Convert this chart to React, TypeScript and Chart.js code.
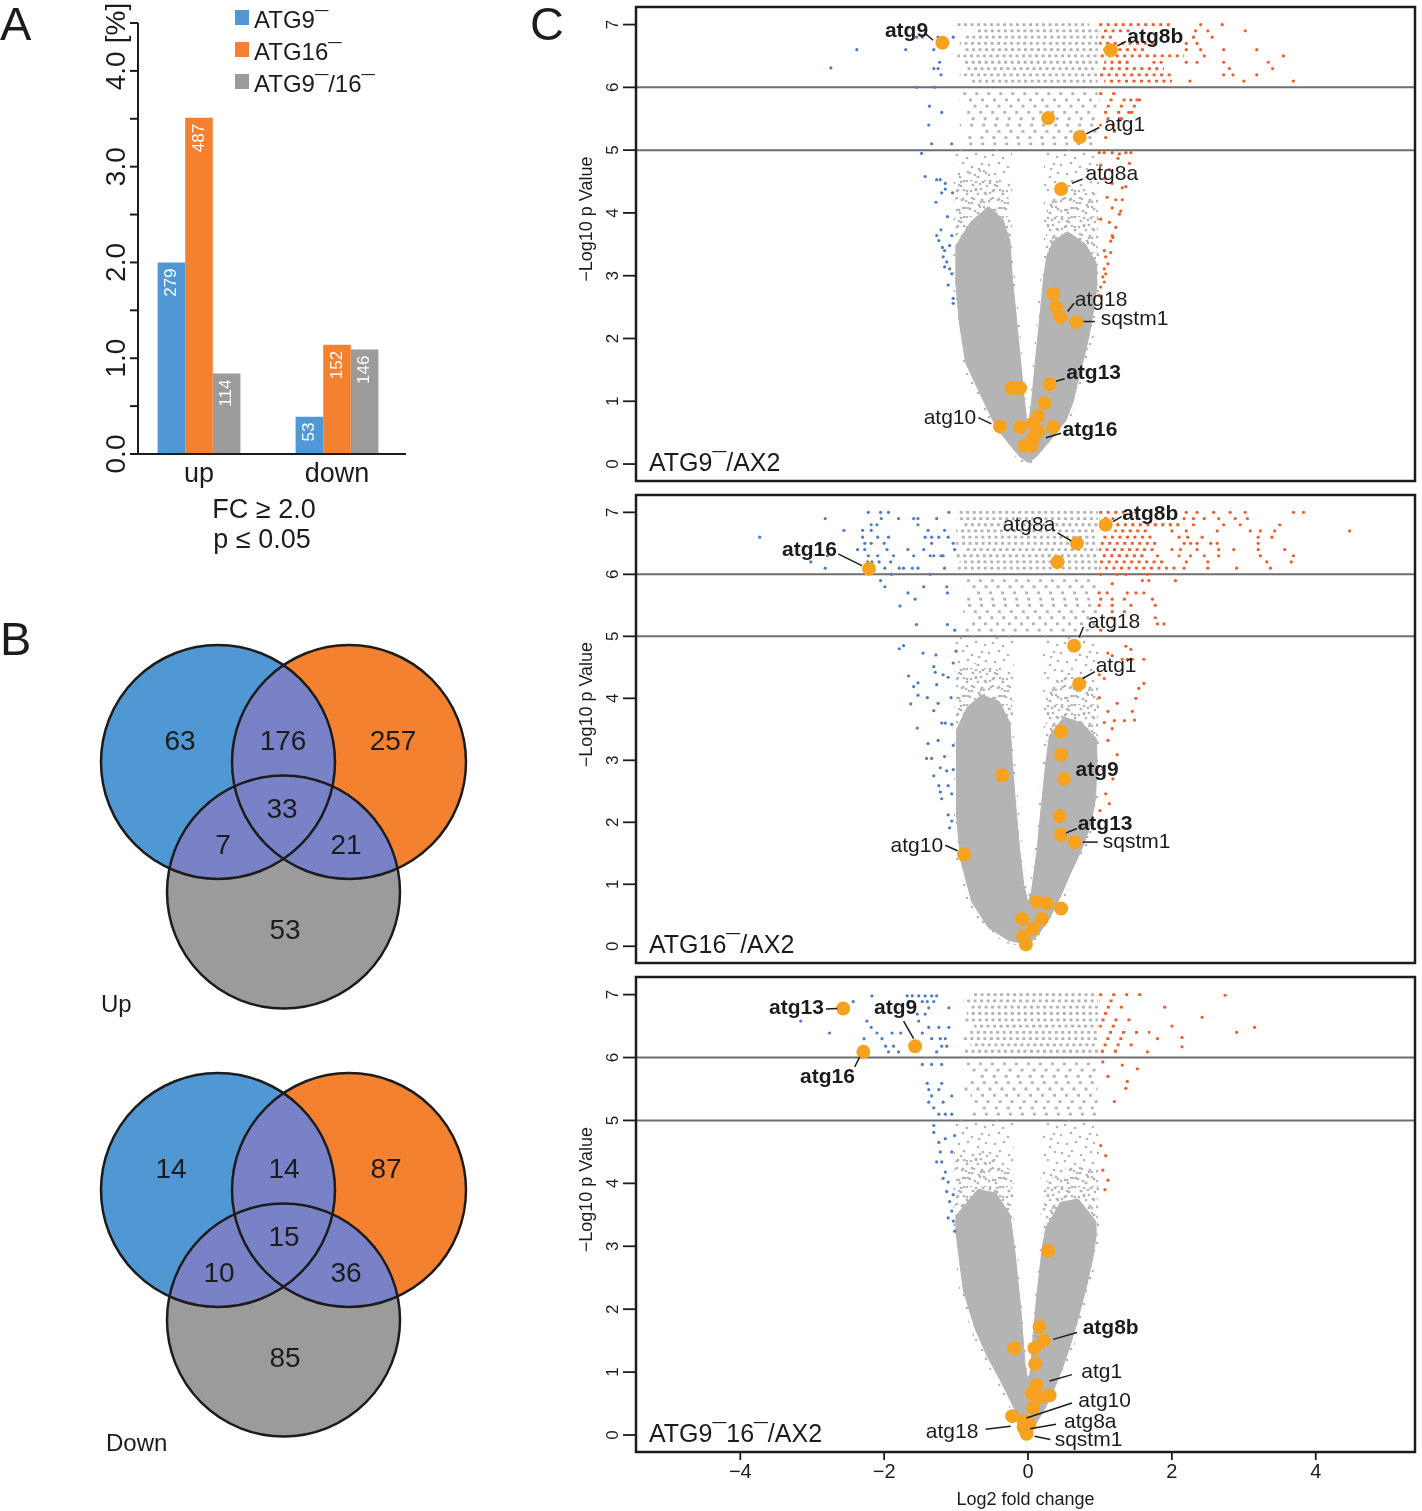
import React, { useEffect, useRef } from "react";
import { Chart, registerables } from "chart.js";

Chart.register(...registerables);

const FONT = '"Liberation Sans", Arial, Helvetica, sans-serif';
const INK = "#1c1c1c";
const BLUE = "#4f98d4";
const ORANGE = "#f4812f";
const GRAY = "#9b9b9b";
const OVERLAP = "#7a82c7";
const PT_GRAY = "#b4b4b4";
const PT_RED = "#f25a28";
const PT_BLUE = "#4c7cc9";
const PT_ORANGE = "#f7a21e";

// ---------------- Panel A: bar chart data ----------------
const barCategories = ["up", "down"];
const barSeriesNames = ["ATG9¯", "ATG16¯", "ATG9¯/16¯"];
const atg9Percent = [2.0, 0.39];
const atg16Percent = [3.51, 1.14];
const atg916Percent = [0.84, 1.09];
const atg9Counts = [279, 53];
const atg16Counts = [487, 152];
const atg916Counts = [114, 146];
const barTickValues = [0, 1, 2, 3, 4, 4.5];
const barTickLabels = ["0.0", "1.0", "2.0", "3.0", "4.0", "[%]"];
const barMinorTicks = [0.5, 1.5, 2.5, 3.5];
const barCriteria = ["FC ≥ 2.0", "p ≤ 0.05"];

// ---------------- Panel B: Venn data ----------------
// region order: ATG9 only, ATG9∩ATG16, ATG16 only, ATG9∩ATG9/16, all three, ATG16∩ATG9/16, ATG9/16 only
const vennUpCounts = [63, 176, 257, 7, 33, 21, 53];
const vennDownCounts = [14, 14, 87, 10, 15, 36, 85];
const vennTitles = ["Up", "Down"];

// ---------------- Panel C: volcano data ----------------
const xTickValues = [-4, -2, 0, 2, 4];
const xTickLabels = ["−4", "−2", "0", "2", "4"];
const yTickValues = [0, 1, 2, 3, 4, 5, 6, 7];
const pThresholds = [5, 6];

// Panel 1: ATG9-/AX2
const p1Cloud = [[0, 0.02], [0.12, 0.12], [0.25, 0.3], [0.4, 0.5], [0.53, 0.7], [0.63, 1.0], [0.71, 1.4], [0.78, 1.7], [0.85, 2.05], [0.92, 2.5], [0.96, 2.85], [0.95, 3.2], [0.8, 3.5], [0.55, 3.7], [0.35, 3.55], [0.26, 3.3], [0.22, 3.0], [0.16, 2.3], [0.1, 1.6], [0.05, 1.0], [0, 0.55], [-0.05, 1.0], [-0.1, 1.6], [-0.16, 2.3], [-0.22, 3.0], [-0.25, 3.55], [-0.35, 3.9], [-0.55, 4.1], [-0.8, 3.85], [-0.99, 3.5], [-1.0, 2.85], [-0.96, 2.3], [-0.87, 1.62], [-0.68, 1.15], [-0.45, 0.6], [-0.25, 0.3], [-0.1, 0.1]];
const p1Mid = [
  [[-1.01, 3.2], [-1.01, 4.6], [-0.6, 4.7], [-0.28, 4.4], [-0.22, 3.4]],
  [[0.24, 3.2], [0.97, 3.0], [0.97, 4.3], [0.6, 4.4], [0.26, 4.2]],
];
const p1Sparse = [[0, -0.02], [0.16, 0.1], [0.3, 0.3], [0.47, 0.52], [0.6, 0.74], [0.7, 1.02], [0.78, 1.4], [0.86, 1.75], [0.93, 2.12], [0.99, 2.5], [0.99, 5.0], [0.22, 5.0], [0.22, 3.3], [0.17, 3.0], [0.12, 2.3], [0.07, 1.6], [0.03, 1.0], [0, 0.7], [-0.03, 1.0], [-0.07, 1.6], [-0.12, 2.3], [-0.18, 3.0], [-0.22, 3.4], [-0.22, 5.0], [-1.03, 5.0], [-1.04, 2.85], [-1.0, 2.3], [-0.93, 1.62], [-0.76, 1.15], [-0.53, 0.62], [-0.3, 0.25], [-0.12, 0.05]];
const p1GrayRows = [[7.0, -0.98, 0.85], [6.9, -0.75, 0.97], [6.8, -0.88, 0.97], [6.7, -0.95, 0.97], [6.6, -0.9, 0.97], [6.5, -0.98, 0.97], [6.4, -0.92, 0.97], [6.3, -0.85, 0.97], [6.2, -0.95, 0.97], [6.1, -0.8, 0.97]];
const p1GraySparseRows = [[5.9, -0.9, 0.97], [5.8, -0.95, 0.97], [5.7, -0.85, 0.97], [5.6, -0.9, 0.97], [5.5, -0.8, 0.97], [5.4, -0.95, 0.97], [5.3, -0.7, 0.97], [5.2, -0.9, 0.97], [5.1, -0.85, 0.97]];
const p1RedRows = [[7.0, 0.99, 2.0], [6.9, 0.99, 1.43], [6.8, 0.99, 1.2], [6.7, 0.99, 1.75], [6.6, 0.99, 1.66], [6.5, 0.99, 2.17], [6.4, 1.06, 1.45], [6.3, 0.99, 1.89], [6.2, 0.99, 2.0], [6.1, 1.06, 2.0]];
const p1RedSparseRows = [[5.9, 0.99, 1.35], [5.8, 0.99, 1.6], [5.7, 0.99, 1.62], [5.6, 0.99, 1.5], [5.5, 1.06, 1.35], [5.4, 0.99, 1.25]];
const p1RedPts = [[2.4, 7.0], [2.7, 7.0], [2.33, 6.9], [2.5, 6.9], [3.02, 6.9], [2.3, 6.8], [2.56, 6.8], [2.2, 6.7], [2.35, 6.7], [2.2, 6.6], [2.4, 6.6], [2.72, 6.6], [3.18, 6.6], [2.45, 6.5], [3.55, 6.5], [1.75, 6.4], [1.85, 6.4], [2.2, 6.4], [2.35, 6.4], [2.72, 6.4], [3.34, 6.4], [2.8, 6.3], [3.4, 6.3], [2.72, 6.2], [2.85, 6.2], [3.18, 6.2], [2.25, 6.1], [3.0, 6.1], [3.69, 6.1], [1.43, 5.8], [1.55, 5.8], [1.3, 5.5], [1.2, 5.3], [1.08, 5.2], [1.4, 5.6], [0.99, 4.96], [1.06, 4.96], [1.17, 4.96], [1.27, 4.94], [1.36, 4.96], [1.43, 4.96], [1.25, 4.87], [1.41, 4.79], [1.01, 4.76], [1.13, 4.69], [1.06, 4.55], [1.17, 4.47], [1.31, 4.4], [1.36, 4.42], [1.1, 4.25], [1.22, 4.21], [1.31, 4.21], [1.17, 4.08], [1.29, 4.03], [1.27, 3.98], [1.01, 3.9], [1.13, 3.85], [1.22, 3.77], [1.17, 3.64], [1.15, 3.55], [1.18, 3.61], [1.06, 3.4], [1.15, 3.37], [1.08, 3.3], [1.11, 3.19], [1.06, 3.11], [1.08, 3.03], [1.04, 2.98], [1.06, 2.9], [1.01, 2.82], [0.99, 2.69]];
const p1BluePts = [[-2.74, 6.31], [-2.38, 6.6], [-1.7, 6.6], [-1.55, 6.8], [-1.47, 6.8], [-1.31, 6.6], [-1.25, 6.8], [-1.04, 6.8], [-1.23, 6.4], [-1.31, 6.3], [-1.25, 6.3], [-1.21, 6.2], [-1.55, 6.0], [-1.3, 6.0], [-1.37, 5.7], [-1.2, 5.6], [-1.38, 5.4], [-1.34, 5.1], [-1.06, 5.1], [-1.48, 4.95], [-1.43, 4.58], [-1.27, 4.53], [-1.22, 4.53], [-1.15, 4.47], [-1.15, 4.38], [-1.2, 4.32], [-1.05, 4.32], [-1.28, 4.17], [-1.12, 3.94], [-1.21, 3.73], [-1.06, 3.64], [-1.27, 3.64], [-1.24, 3.56], [-1.19, 3.45], [-1.16, 3.4], [-1.09, 3.48], [-1.18, 3.3], [-1.13, 3.22], [-1.16, 3.14], [-1.09, 3.11], [-1.06, 3.03], [-1.11, 2.85], [-1.04, 2.64], [-1.04, 2.56]];
const p1Genes = [[-1.19, 6.71], [1.15, 6.59], [0.28, 5.51], [0.72, 5.21], [0.46, 4.38], [0.35, 2.71], [0.39, 2.5], [0.45, 2.34], [0.67, 2.26], [0.3, 1.27], [-0.23, 1.21], [-0.11, 1.21], [0.23, 0.97], [0.14, 0.76], [0.07, 0.65], [-0.11, 0.59], [0.35, 0.59], [-0.39, 0.6], [0.14, 0.52], [0.07, 0.42], [-0.05, 0.29], [0.05, 0.29]];
const p1Labels = [
  { name: "atg9", bold: true, at: [-1.99, 6.8], align: "left", leader: [[-1.43, 6.86], [-1.32, 6.75]] },
  { name: "atg8b", bold: true, at: [1.38, 6.7], align: "left", leader: [[1.24, 6.66], [1.36, 6.73]] },
  { name: "atg1", bold: false, at: [1.06, 5.31], align: "left", leader: [[0.81, 5.26], [0.99, 5.36]] },
  { name: "atg8a", bold: false, at: [0.8, 4.53], align: "left", leader: [[0.61, 4.47], [0.76, 4.54]] },
  { name: "atg18", bold: false, at: [0.65, 2.51], align: "left", leader: [[0.55, 2.43], [0.64, 2.56]] },
  { name: "sqstm1", bold: false, at: [1.01, 2.21], align: "left", leader: [[0.77, 2.27], [0.93, 2.27]] },
  { name: "atg13", bold: true, at: [0.53, 1.35], align: "left", leader: [[0.39, 1.32], [0.51, 1.36]] },
  { name: "atg16", bold: true, at: [0.48, 0.44], align: "left", leader: [[0.25, 0.42], [0.46, 0.49]] },
  { name: "atg10", bold: false, at: [-0.72, 0.63], align: "right", leader: [[-0.69, 0.74], [-0.51, 0.64]] },
];

// Panel 2: ATG16-/AX2
const p2Cloud = [[0, 0.02], [0.15, 0.2], [0.3, 0.45], [0.45, 0.8], [0.6, 1.2], [0.76, 1.6], [0.88, 2.0], [0.94, 2.4], [0.96, 3.0], [0.95, 3.35], [0.75, 3.6], [0.5, 3.7], [0.3, 3.4], [0.25, 3.0], [0.18, 2.2], [0.12, 1.5], [0.05, 0.9], [0, 0.7], [-0.06, 1.0], [-0.12, 1.6], [-0.18, 2.4], [-0.22, 3.0], [-0.25, 3.6], [-0.4, 3.95], [-0.65, 4.05], [-0.85, 3.85], [-0.99, 3.5], [-0.99, 2.85], [-0.99, 2.07], [-0.94, 1.4], [-0.78, 0.71], [-0.55, 0.3], [-0.25, 0.08]];
const p2Mid = [
  [[-1.0, 3.3], [-1.0, 4.5], [-0.6, 4.6], [-0.22, 4.3], [-0.22, 3.5]],
  [[0.25, 3.3], [0.97, 3.2], [0.97, 4.2], [0.55, 4.4], [0.25, 4.1]],
];
const p2Sparse = [[0, -0.02], [0.2, 0.2], [0.36, 0.45], [0.52, 0.8], [0.67, 1.2], [0.82, 1.6], [0.93, 2.0], [0.99, 2.4], [0.99, 5.0], [0.2, 5.0], [0.22, 3.4], [0.2, 3.0], [0.14, 2.2], [0.08, 1.5], [0.02, 0.9], [0, 0.8], [-0.03, 1.0], [-0.08, 1.6], [-0.14, 2.4], [-0.18, 3.0], [-0.2, 3.5], [-0.2, 5.0], [-1.02, 5.0], [-1.03, 2.0], [-1.0, 1.4], [-0.85, 0.7], [-0.62, 0.28], [-0.3, 0.05]];
const p2GrayRows = [[7.0, -0.95, 0.97], [6.9, -1.0, 0.97], [6.8, -0.9, 0.97], [6.7, -1.0, 0.97], [6.6, -0.95, 0.97], [6.5, -1.0, 0.97], [6.4, -0.9, 0.97], [6.3, -1.0, 0.97], [6.2, -0.95, 0.97], [6.1, -1.0, 0.97]];
const p2GraySparseRows = [[5.9, -0.85, 0.97], [5.8, -0.9, 0.97], [5.7, -0.8, 0.97], [5.6, -0.9, 0.97], [5.5, -0.85, 0.97], [5.4, -0.9, 0.97], [5.3, -0.8, 0.97], [5.2, -0.85, 0.97], [5.1, -0.9, 0.97]];
const p2RedRows = [[7.0, 0.99, 1.34], [6.9, 0.99, 1.2], [6.8, 0.99, 2.17], [6.7, 1.2, 1.66], [6.6, 0.99, 1.75], [6.5, 0.99, 1.84], [6.4, 0.99, 1.8], [6.3, 0.99, 1.66], [6.2, 0.99, 1.89], [6.1, 0.99, 2.1]];
const p2RedSparseRows = [];
const p2RedPts = [[1.5, 7.0], [1.84, 7.0], [2.2, 7.0], [2.35, 7.0], [2.58, 7.0], [2.81, 7.0], [3.02, 7.0], [3.69, 7.0], [3.83, 7.0], [1.52, 6.9], [1.8, 6.9], [2.17, 6.9], [2.3, 6.9], [2.45, 6.9], [2.65, 6.9], [2.88, 6.9], [3.05, 6.9], [2.3, 6.8], [2.72, 6.8], [2.95, 6.8], [3.5, 6.8], [2.0, 6.7], [2.2, 6.7], [2.63, 6.7], [3.09, 6.7], [3.23, 6.7], [3.43, 6.7], [4.47, 6.7], [2.1, 6.6], [2.22, 6.6], [2.42, 6.6], [3.2, 6.6], [3.39, 6.6], [2.17, 6.5], [2.26, 6.5], [2.35, 6.5], [2.54, 6.5], [2.63, 6.5], [3.2, 6.5], [2.0, 6.4], [2.12, 6.4], [2.35, 6.4], [2.65, 6.4], [2.86, 6.4], [3.2, 6.4], [3.57, 6.4], [1.8, 6.3], [2.1, 6.3], [2.26, 6.3], [2.45, 6.3], [2.65, 6.3], [3.23, 6.3], [3.69, 6.3], [2.2, 6.2], [2.5, 6.2], [3.32, 6.2], [3.66, 6.2], [2.17, 6.1], [2.5, 6.1], [2.9, 6.1], [3.37, 6.1], [1.01, 6.0], [1.24, 6.0], [1.36, 6.0], [1.66, 6.0], [1.59, 5.9], [1.68, 5.9], [2.05, 5.9], [1.17, 5.85], [0.99, 5.7], [1.1, 5.7], [1.38, 5.7], [1.5, 5.7], [1.61, 5.7], [1.01, 5.6], [1.17, 5.6], [1.34, 5.6], [1.73, 5.6], [0.99, 5.5], [1.17, 5.5], [1.43, 5.5], [1.77, 5.5], [1.17, 5.4], [1.34, 5.4], [1.17, 5.3], [1.77, 5.3], [1.89, 5.2], [1.8, 5.2], [1.01, 5.1], [1.17, 5.1], [1.36, 4.84], [1.43, 4.79], [1.11, 4.73], [1.17, 4.69], [1.31, 4.63], [1.38, 4.63], [1.45, 4.63], [1.61, 4.63], [0.99, 4.38], [1.06, 4.32], [1.61, 4.24], [1.54, 4.16], [1.5, 4.0], [0.99, 4.01], [1.11, 3.79], [1.24, 3.92], [1.45, 3.79], [1.06, 3.61], [1.2, 3.64], [1.34, 3.64], [1.48, 3.65], [1.17, 3.51], [1.11, 3.32], [1.24, 3.09], [1.04, 2.85], [1.18, 2.7], [1.08, 2.46], [1.13, 2.3], [1.0, 2.19]];
const p2BluePts = [[-3.73, 6.6], [-2.82, 6.9], [-2.82, 6.1], [-3.02, 6.2], [-2.79, 6.3], [-2.56, 6.71], [-2.3, 6.71], [-2.22, 7.0], [-2.18, 6.8], [-2.05, 7.0], [-1.94, 7.0], [-2.04, 6.9], [-2.1, 6.8], [-2.3, 6.6], [-2.18, 6.71], [-2.27, 6.5], [-2.27, 6.4], [-2.18, 6.5], [-2.09, 6.6], [-2.0, 6.5], [-1.94, 6.6], [-2.37, 6.4], [-2.22, 6.3], [-2.09, 6.3], [-1.96, 6.4], [-1.87, 6.3], [-2.23, 6.2], [-2.17, 6.2], [-2.07, 6.2], [-1.91, 6.2], [-1.99, 6.1], [-1.8, 6.9], [-1.59, 6.9], [-1.53, 6.9], [-1.53, 6.8], [-1.67, 6.4], [-1.59, 6.3], [-1.79, 6.1], [-1.73, 6.1], [-1.61, 6.1], [-1.53, 6.1], [-1.39, 6.71], [-1.43, 6.6], [-1.34, 6.6], [-1.24, 6.6], [-1.11, 6.6], [-1.34, 6.5], [-1.45, 6.4], [-1.36, 6.3], [-1.31, 6.3], [-1.21, 6.3], [-1.18, 6.3], [-1.16, 6.71], [-1.04, 6.5], [-1.02, 6.4], [-1.27, 6.9], [-1.1, 7.0], [-1.16, 6.1], [-1.36, 6.0], [-1.9, 6.0], [-2.05, 5.9], [-1.99, 5.8], [-1.45, 5.8], [-1.67, 5.7], [-1.57, 5.6], [-1.13, 5.8], [-1.12, 5.7], [-1.78, 5.49], [-1.55, 5.19], [-1.12, 5.19], [-1.02, 5.1], [-1.79, 4.8], [-1.73, 4.85], [-1.66, 4.36], [-1.46, 4.73], [-1.28, 4.7], [-1.31, 4.51], [-1.29, 4.42], [-1.18, 4.38], [-1.11, 4.34], [-1.59, 4.19], [-1.53, 4.25], [-1.27, 4.22], [-1.4, 4.01], [-1.53, 4.05], [-1.63, 3.91], [-1.31, 3.8], [-1.25, 3.92], [-1.07, 4.01], [-1.04, 4.57], [-1.0, 4.76], [-1.2, 3.6], [-1.15, 3.6], [-1.54, 3.52], [-1.06, 3.58], [-1.39, 3.27], [-1.25, 3.32], [-1.04, 3.24], [-1.41, 3.03], [-1.34, 3.03], [-1.16, 3.06], [-1.22, 2.88], [-1.13, 2.83], [-1.04, 2.85], [-1.31, 2.75], [-1.24, 2.59], [-1.22, 2.49], [-1.2, 2.38], [-1.11, 2.59], [-1.06, 2.46], [-1.11, 2.12], [-1.06, 2.02], [-1.09, 1.91]];
const p2Genes = [[-2.21, 6.09], [1.08, 6.8], [0.68, 6.5], [0.41, 6.2], [0.64, 4.85], [0.71, 4.23], [0.46, 3.46], [0.46, 3.09], [0.5, 2.7], [-0.36, 2.76], [0.44, 2.1], [0.46, 1.8], [0.65, 1.68], [-0.89, 1.48], [0.12, 0.72], [0.26, 0.69], [0.46, 0.61], [-0.08, 0.44], [0.19, 0.44], [0.07, 0.28], [-0.07, 0.16], [-0.03, 0.03]];
const p2Labels = [
  { name: "atg16", bold: true, at: [-3.42, 6.3], align: "left", leader: [[-2.64, 6.33], [-2.31, 6.14]] },
  { name: "atg8b", bold: true, at: [1.31, 6.88], align: "left", leader: [[1.18, 6.85], [1.3, 6.93]] },
  { name: "atg8a", bold: false, at: [-0.35, 6.7], align: "left", leader: [[0.41, 6.67], [0.6, 6.54]] },
  { name: "atg18", bold: false, at: [0.83, 5.14], align: "left", leader: [[0.71, 4.98], [0.77, 5.15]] },
  { name: "atg1", bold: false, at: [0.94, 4.42], align: "left", leader: [[0.76, 4.32], [0.93, 4.43]] },
  { name: "atg9", bold: true, at: [0.66, 2.74], align: "left", leader: null },
  { name: "atg13", bold: true, at: [0.69, 1.87], align: "left", leader: [[0.53, 1.83], [0.68, 1.9]] },
  { name: "sqstm1", bold: false, at: [1.04, 1.58], align: "left", leader: [[0.76, 1.68], [0.97, 1.68]] },
  { name: "atg10", bold: false, at: [-1.18, 1.52], align: "right", leader: [[-1.15, 1.63], [-0.98, 1.54]] },
];

// Panel 3: ATG9-16-/AX2
const p3Cloud = [[0, 0.0], [0.12, 0.2], [0.24, 0.43], [0.35, 0.7], [0.46, 1.0], [0.58, 1.4], [0.68, 1.78], [0.8, 2.3], [0.9, 2.8], [0.95, 3.2], [0.94, 3.4], [0.7, 3.75], [0.45, 3.7], [0.25, 3.3], [0.2, 3.0], [0.12, 2.2], [0.06, 1.4], [0.03, 1.0], [0, 0.85], [-0.04, 1.1], [-0.1, 2.0], [-0.18, 2.9], [-0.25, 3.5], [-0.45, 3.85], [-0.7, 3.9], [-0.99, 3.5], [-1.0, 3.2], [-0.9, 2.3], [-0.74, 1.7], [-0.57, 1.26], [-0.4, 0.9], [-0.28, 0.63], [-0.12, 0.25]];
const p3Mid = [
  [[-1.02, 3.3], [-1.02, 4.4], [-0.6, 4.5], [-0.22, 4.2], [-0.22, 3.4]],
  [[0.22, 3.2], [0.97, 3.1], [0.97, 4.2], [0.6, 4.3], [0.22, 4.0]],
];
const p3Sparse = [[0, -0.02], [0.16, 0.2], [0.3, 0.43], [0.41, 0.7], [0.52, 1.0], [0.64, 1.4], [0.74, 1.78], [0.86, 2.3], [0.95, 2.8], [0.99, 3.1], [0.99, 5.0], [0.18, 5.0], [0.17, 3.0], [0.1, 2.2], [0.04, 1.4], [0.01, 1.0], [0, 0.95], [-0.02, 1.1], [-0.07, 2.0], [-0.14, 2.9], [-0.2, 3.4], [-0.2, 5.0], [-1.03, 5.0], [-1.04, 3.2], [-0.96, 2.3], [-0.81, 1.7], [-0.64, 1.26], [-0.46, 0.9], [-0.33, 0.6], [-0.16, 0.2]];
const p3GrayRows = [[7.0, -0.75, 0.97], [6.9, -0.9, 0.97], [6.8, -0.8, 0.97], [6.7, -0.85, 0.97], [6.6, -0.9, 0.97], [6.5, -0.75, 0.97], [6.4, -0.85, 0.97], [6.3, -0.9, 0.97], [6.2, -0.8, 0.97], [6.1, -0.9, 0.97]];
const p3GraySparseRows = [[5.9, -0.85, 0.97], [5.8, -0.9, 0.97], [5.7, -0.75, 0.97], [5.6, -0.85, 0.97], [5.5, -0.9, 0.97], [5.4, -0.8, 0.97], [5.3, -0.85, 0.97], [5.2, -0.7, 0.97], [5.1, -0.8, 0.97]];
const p3RedRows = [];
const p3RedSparseRows = [[7.0, 0.99, 1.6], [6.9, 0.99, 1.3], [6.8, 0.99, 1.45], [6.7, 0.99, 1.2], [6.6, 0.99, 1.5], [6.5, 0.99, 1.3], [6.4, 0.99, 1.7], [6.3, 0.99, 1.35], [6.2, 0.99, 1.5], [6.1, 0.99, 1.25]];
const p3RedPts = [[2.74, 6.99], [3.15, 6.48], [2.9, 6.4], [2.14, 6.17], [2.14, 6.32], [1.66, 6.09], [2.42, 6.64], [1.9, 6.8], [2.0, 6.5], [1.8, 6.3], [1.04, 5.93], [1.31, 5.88], [1.52, 5.82], [1.11, 5.7], [1.38, 5.62], [1.36, 5.51], [1.2, 5.3], [1.01, 4.6], [1.08, 4.44], [1.04, 4.21], [1.11, 4.05], [1.07, 3.9]];
const p3BluePts = [[-3.16, 6.58], [-2.76, 6.39], [-2.43, 6.89], [-2.17, 6.98], [-2.24, 6.58], [-2.18, 6.48], [-2.28, 6.3], [-2.26, 6.14], [-2.1, 6.39], [-2.03, 6.3], [-1.98, 6.18], [-1.94, 6.09], [-1.87, 6.18], [-1.8, 6.09], [-1.89, 6.39], [-1.77, 6.39], [-1.68, 6.98], [-1.61, 6.98], [-1.52, 6.98], [-1.43, 6.98], [-1.34, 6.98], [-1.27, 6.98], [-1.66, 6.89], [-1.47, 6.89], [-1.4, 6.89], [-1.31, 6.89], [-1.54, 6.69], [-1.43, 6.69], [-1.38, 6.79], [-1.1, 6.79], [-1.52, 6.58], [-1.38, 6.48], [-1.24, 6.48], [-1.1, 6.48], [-1.47, 6.39], [-1.34, 6.3], [-1.22, 6.3], [-1.15, 6.3], [-1.2, 6.18], [-1.13, 6.18], [-1.27, 6.09], [-1.47, 5.89], [-1.34, 5.89], [-1.2, 5.89], [-1.4, 5.59], [-1.2, 5.59], [-1.38, 5.49], [-1.24, 5.49], [-1.06, 5.39], [-1.34, 5.39], [-1.38, 5.29], [-1.18, 5.29], [-1.31, 5.2], [-1.24, 5.1], [-1.15, 5.1], [-1.06, 5.1], [-1.31, 4.92], [-1.31, 4.81], [-1.24, 4.65], [-1.22, 4.5], [-1.2, 4.34], [-1.15, 4.18], [-1.11, 4.02], [-1.13, 3.87], [-1.09, 3.71], [-1.06, 3.56], [-1.04, 3.4], [-1.02, 3.24], [-1.18, 4.08], [-1.27, 4.34], [-1.15, 4.71], [-1.02, 4.76], [-1.06, 4.5], [-1.04, 3.82], [-1.11, 3.45]];
const p3Genes = [[-2.57, 6.78], [-1.57, 6.18], [-2.29, 6.09], [0.28, 2.93], [0.16, 1.72], [0.22, 1.5], [-0.19, 1.38], [0.09, 1.38], [0.1, 1.13], [0.12, 0.79], [0.05, 0.66], [0.3, 0.63], [0.15, 0.59], [0.07, 0.43], [-0.22, 0.3], [-0.06, 0.22], [0.02, 0.17], [-0.06, 0.12], [-0.02, 0.02]];
const p3Labels = [
  { name: "atg13", bold: true, at: [-3.6, 6.69], align: "left", leader: [[-2.81, 6.77], [-2.65, 6.78]] },
  { name: "atg9", bold: true, at: [-2.14, 6.69], align: "left", leader: [[-1.73, 6.58], [-1.59, 6.3]] },
  { name: "atg16", bold: true, at: [-3.17, 5.59], align: "left", leader: [[-2.41, 5.85], [-2.34, 6.01]] },
  { name: "atg8b", bold: true, at: [0.76, 1.6], align: "left", leader: [[0.35, 1.52], [0.68, 1.63]] },
  { name: "atg1", bold: false, at: [0.74, 0.9], align: "left", leader: [[0.3, 0.86], [0.61, 0.96]] },
  { name: "atg10", bold: false, at: [0.7, 0.45], align: "left", leader: [[-0.02, 0.27], [0.61, 0.51]] },
  { name: "atg8a", bold: false, at: [0.5, 0.11], align: "left", leader: [[0.03, 0.1], [0.39, 0.17]] },
  { name: "atg18", bold: false, at: [-0.69, -0.04], align: "right", leader: [[-0.59, 0.09], [-0.24, 0.14]] },
  { name: "sqstm1", bold: false, at: [0.37, -0.17], align: "left", leader: [[0.09, -0.02], [0.31, -0.07]] },
];

// ---------------- layout / style (not data) ----------------
const VENN_CIRCLES_UP = [{ cx: 218, cy: 762, r: 117 }, { cx: 349, cy: 762, r: 117 }, { cx: 283.5, cy: 892, r: 116.5 }];
const VENN_LABELS_UP = [[180, 742], [283, 742], [393, 742], [223, 846], [282, 810], [346, 846], [285, 931]];
const VENN_CIRCLES_DOWN = VENN_CIRCLES_UP.map((c) => ({ cx: c.cx, cy: c.cy + 428, r: c.r }));
const VENN_LABELS_DOWN = [[171, 1170], [284, 1170], [386, 1170], [219, 1274], [284, 1238], [346, 1274], [285, 1359]];
// stipple texture tile (style for the sparse part of the point cloud)
const STIPPLE_TILE = 36;
const STIPPLE_DOTS = [[2, 3], [12, 1], [21, 5], [31, 2], [5, 11], [15, 14], [24, 10], [33, 13], [1, 21], [11, 19], [20, 23], [30, 20], [7, 30], [16, 28], [26, 33], [34, 29], [9, 6], [27, 25]];

const panelsLayout = [
  { top: 0, height: 488, pad: { left: 116, right: 3, top: 6, bottom: 1 }, letter: "C", xAxis: false },
  { top: 488, height: 482, pad: { left: 116, right: 3, top: 1.5, bottom: 1.5 }, letter: null, xAxis: false },
  { top: 970, height: 541, pad: { left: 116, right: 3, top: 1.5, bottom: 59 }, letter: null, xAxis: true },
];

const panelData = [
  { title: "ATG9¯/AX2", cloud: p1Cloud, mid: p1Mid, sparse: p1Sparse, grayRows: p1GrayRows, graySparseRows: p1GraySparseRows, redRows: p1RedRows, redSparseRows: p1RedSparseRows, redPts: p1RedPts, bluePts: p1BluePts, genes: p1Genes, labels: p1Labels },
  { title: "ATG16¯/AX2", cloud: p2Cloud, mid: p2Mid, sparse: p2Sparse, grayRows: p2GrayRows, graySparseRows: p2GraySparseRows, redRows: p2RedRows, redSparseRows: p2RedSparseRows, redPts: p2RedPts, bluePts: p2BluePts, genes: p2Genes, labels: p2Labels },
  { title: "ATG9¯16¯/AX2", cloud: p3Cloud, mid: p3Mid, sparse: p3Sparse, grayRows: p3GrayRows, graySparseRows: p3GraySparseRows, redRows: p3RedRows, redSparseRows: p3RedSparseRows, redPts: p3RedPts, bluePts: p3BluePts, genes: p3Genes, labels: p3Labels },
];

const baseOptions = {
  animation: false,
  responsive: false,
  maintainAspectRatio: false,
  devicePixelRatio: 1,
  events: [],
  plugins: { legend: { display: false }, tooltip: { enabled: false } },
};

// ---------------- Panel A ----------------
function makeBarChart(canvas) {
  const counts = [atg9Counts, atg16Counts, atg916Counts];
  const colors = [BLUE, ORANGE, GRAY];
  const decor = {
    id: "barDecor",
    afterDatasetsDraw(chart) {
      const { ctx, chartArea: a, scales } = chart;
      const x = scales.x;
      const y = scales.y;
      const axisX = a.left + 8;
      const y0 = y.getPixelForValue(0);
      ctx.save();
      ctx.strokeStyle = INK;
      ctx.lineWidth = 2;
      ctx.beginPath();
      ctx.moveTo(axisX, y0);
      ctx.lineTo(axisX, y.getPixelForValue(4.5));
      ctx.stroke();
      ctx.beginPath();
      ctx.moveTo(a.left, y0);
      ctx.lineTo(a.right, y0);
      ctx.stroke();
      [...barTickValues, ...barMinorTicks].forEach((v) => {
        const py = y.getPixelForValue(v);
        ctx.beginPath();
        ctx.moveTo(axisX - 8, py);
        ctx.lineTo(axisX, py);
        ctx.stroke();
      });
      ctx.fillStyle = INK;
      ctx.font = `28px ${FONT}`;
      ctx.textAlign = "center";
      ctx.textBaseline = "alphabetic";
      barTickValues.forEach((v, i) => {
        ctx.save();
        ctx.translate(axisX - 13, y.getPixelForValue(v));
        ctx.rotate(-Math.PI / 2);
        ctx.fillText(barTickLabels[i], 0, 0);
        ctx.restore();
      });
      ctx.font = `17px ${FONT}`;
      ctx.fillStyle = "#ffffff";
      ctx.textAlign = "right";
      ctx.textBaseline = "middle";
      chart.data.datasets.forEach((ds, di) => {
        chart.getDatasetMeta(di).data.forEach((el, i) => {
          ctx.save();
          ctx.translate(el.x, el.y + 6);
          ctx.rotate(-Math.PI / 2);
          ctx.fillText(String(counts[di][i]), 0, 0);
          ctx.restore();
        });
      });
      ctx.fillStyle = INK;
      ctx.font = `27px ${FONT}`;
      ctx.textAlign = "center";
      ctx.textBaseline = "alphabetic";
      barCategories.forEach((c, i) => ctx.fillText(c, x.getPixelForValue(i), y0 + 28));
      ctx.fillText(barCriteria[0], 264, y0 + 64);
      ctx.fillText(barCriteria[1], 262, y0 + 94);
      ctx.font = `24px ${FONT}`;
      ctx.textAlign = "left";
      barSeriesNames.forEach((n, i) => {
        const top = 10 + i * 32;
        ctx.fillStyle = colors[i];
        ctx.fillRect(235, top, 14, 15);
        ctx.fillStyle = INK;
        ctx.fillText(n, 254, top + 18);
      });
      ctx.font = `47px ${FONT}`;
      ctx.fillText("A", 0, 40);
      ctx.restore();
    },
  };
  return new Chart(canvas, {
    type: "bar",
    data: {
      labels: barCategories,
      datasets: [
        { label: barSeriesNames[0], data: atg9Percent, backgroundColor: BLUE },
        { label: barSeriesNames[1], data: atg16Percent, backgroundColor: ORANGE },
        { label: barSeriesNames[2], data: atg916Percent, backgroundColor: GRAY },
      ],
    },
    options: {
      ...baseOptions,
      layout: { padding: { left: 130, right: 114, top: 23, bottom: 146 } },
      datasets: { bar: { categoryPercentage: 0.6, barPercentage: 1.0, borderWidth: 0 } },
      scales: {
        x: { display: false },
        y: { display: false, min: 0, max: 4.5 },
      },
    },
    plugins: [decor],
  });
}

// ---------------- Panel B ----------------
function makeVenn(canvas, top, height, counts, labelPos, circles, title, titlePos, letter) {
  const fills = [BLUE, ORANGE, GRAY];
  const decor = {
    id: "vennDecor",
    beforeDatasetsDraw(chart) {
      const { ctx, scales } = chart;
      const x = scales.x;
      const y = scales.y;
      const circ = circles.map((c) => ({
        px: x.getPixelForValue(c.cx),
        py: y.getPixelForValue(c.cy),
        r: Math.abs(x.getPixelForValue(c.cx + c.r) - x.getPixelForValue(c.cx)),
      }));
      const path = (c) => {
        ctx.beginPath();
        ctx.arc(c.px, c.py, c.r, 0, Math.PI * 2);
      };
      ctx.save();
      circ.forEach((c, i) => {
        path(c);
        ctx.fillStyle = fills[i];
        ctx.fill();
      });
      for (let i = 0; i < 3; i++) {
        for (let j = i + 1; j < 3; j++) {
          ctx.save();
          path(circ[i]);
          ctx.clip();
          path(circ[j]);
          ctx.fillStyle = OVERLAP;
          ctx.fill();
          ctx.restore();
        }
      }
      ctx.lineWidth = 2.5;
      ctx.strokeStyle = INK;
      circ.forEach((c) => {
        path(c);
        ctx.stroke();
      });
      ctx.restore();
    },
    afterDatasetsDraw(chart) {
      const { ctx, scales } = chart;
      const meta = chart.getDatasetMeta(0);
      ctx.save();
      ctx.fillStyle = INK;
      ctx.font = `28px ${FONT}`;
      ctx.textAlign = "center";
      ctx.textBaseline = "middle";
      meta.data.forEach((pt, i) => ctx.fillText(String(counts[i]), pt.x, pt.y));
      ctx.font = `24px ${FONT}`;
      ctx.textAlign = "left";
      ctx.textBaseline = "alphabetic";
      ctx.fillText(title, scales.x.getPixelForValue(titlePos[0]), scales.y.getPixelForValue(titlePos[1]));
      if (letter) {
        ctx.font = `47px ${FONT}`;
        ctx.fillText(letter, 0, 55);
      }
      ctx.restore();
    },
  };
  return new Chart(canvas, {
    type: "scatter",
    data: { datasets: [{ data: labelPos.map(([px, py]) => ({ x: px, y: py })), pointRadius: 0 }] },
    options: {
      ...baseOptions,
      layout: { padding: 0 },
      scales: {
        x: { type: "linear", display: false, min: 0, max: 500 },
        y: { type: "linear", display: false, min: top, max: top + height, reverse: true },
      },
    },
    plugins: [decor],
  });
}

// ---------------- Panel C ----------------
function makeStipple(canvas, doubled) {
  const tile = document.createElement("canvas");
  tile.width = STIPPLE_TILE;
  tile.height = STIPPLE_TILE;
  const g = tile.getContext("2d");
  g.fillStyle = PT_GRAY;
  const shifts = doubled ? [[0, 0], [17, 8], [8, 17]] : [[0, 0]];
  shifts.forEach(([ox, oy]) =>
    STIPPLE_DOTS.forEach(([sx, sy]) => {
      g.beginPath();
      g.arc((sx + ox) % STIPPLE_TILE, (sy + oy) % STIPPLE_TILE, 1.35, 0, Math.PI * 2);
      g.fill();
    })
  );
  return canvas.getContext("2d").createPattern(tile, "repeat");
}

function buildVolcanoDatasets(p, stipple, stippleDense) {
  const toPts = (arr) => arr.map(([x, y]) => ({ x, y }));
  const ds = [];
  ds.push({ data: toPts(p.sparse), showLine: true, fill: "shape", backgroundColor: stipple, borderColor: "rgba(0,0,0,0)", borderWidth: 0, pointRadius: 0 });
  p.mid.forEach((poly) =>
    ds.push({ data: toPts(poly), showLine: true, fill: "shape", backgroundColor: stippleDense, borderColor: "rgba(0,0,0,0)", borderWidth: 0, pointRadius: 0 })
  );
  ds.push({ data: toPts(p.cloud), showLine: true, fill: "shape", backgroundColor: PT_GRAY, borderColor: PT_GRAY, borderWidth: 1, pointRadius: 0 });
  const rows = (list, color, dash) =>
    list.forEach(([y, x0, x1], i) =>
      ds.push({
        data: [{ x: x0, y }, { x: x1, y }],
        showLine: true,
        fill: false,
        borderColor: color,
        borderWidth: 2.8,
        borderDash: dash,
        borderDashOffset: (i * 2.7) % (dash[0] + dash[1]),
        borderCapStyle: "butt",
        pointRadius: 0,
      })
    );
  rows(p.grayRows, PT_GRAY, [3, 3.5]);
  rows(p.graySparseRows, PT_GRAY, [3, 9]);
  rows(p.redRows, PT_RED, [3, 4.5]);
  rows(p.redSparseRows, PT_RED, [3, 10]);
  ds.push({ data: toPts(p.redPts), pointRadius: 1.6, backgroundColor: PT_RED, borderWidth: 0 });
  ds.push({ data: toPts(p.bluePts), pointRadius: 1.6, backgroundColor: PT_BLUE, borderWidth: 0 });
  ds.push({ data: toPts(p.genes), pointRadius: 7, backgroundColor: PT_ORANGE, borderWidth: 0 });
  // Chart.js paints the first dataset last; reverse so the genes end up on top
  return ds.reverse();
}

function makeVolcano(canvas, p, lay) {
  const decor = {
    id: "volcanoDecor",
    beforeDatasetsDraw(chart) {
      const { ctx, chartArea: a, scales } = chart;
      ctx.save();
      ctx.strokeStyle = "#6e6e6e";
      ctx.lineWidth = 2;
      pThresholds.forEach((t) => {
        const py = scales.y.getPixelForValue(t);
        ctx.beginPath();
        ctx.moveTo(a.left, py);
        ctx.lineTo(a.right, py);
        ctx.stroke();
      });
      ctx.restore();
    },
    afterDatasetsDraw(chart) {
      const { ctx, chartArea: a, scales } = chart;
      const x = scales.x;
      const y = scales.y;
      ctx.save();
      ctx.strokeStyle = INK;
      ctx.lineWidth = 1.5;
      ctx.fillStyle = INK;
      ctx.textBaseline = "alphabetic";
      p.labels.forEach((l) => {
        if (l.leader) {
          ctx.beginPath();
          ctx.moveTo(x.getPixelForValue(l.leader[0][0]), y.getPixelForValue(l.leader[0][1]));
          ctx.lineTo(x.getPixelForValue(l.leader[1][0]), y.getPixelForValue(l.leader[1][1]));
          ctx.stroke();
        }
        ctx.font = `${l.bold ? "bold " : ""}21px ${FONT}`;
        ctx.textAlign = l.align;
        ctx.fillText(l.name, x.getPixelForValue(l.at[0]), y.getPixelForValue(l.at[1]));
      });
      ctx.strokeStyle = INK;
      ctx.lineWidth = 2.5;
      ctx.strokeRect(a.left, a.top, a.right - a.left, a.bottom - a.top);
      ctx.lineWidth = 1.8;
      ctx.font = `17px ${FONT}`;
      ctx.textAlign = "center";
      ctx.textBaseline = "alphabetic";
      yTickValues.forEach((v) => {
        const py = y.getPixelForValue(v);
        ctx.beginPath();
        ctx.moveTo(a.left - 13, py);
        ctx.lineTo(a.left, py);
        ctx.stroke();
        ctx.save();
        ctx.translate(a.left - 18, py);
        ctx.rotate(-Math.PI / 2);
        ctx.fillText(String(v), 0, 0);
        ctx.restore();
      });
      ctx.save();
      ctx.font = `18px ${FONT}`;
      ctx.translate(a.left - 44, y.getPixelForValue(3.9));
      ctx.rotate(-Math.PI / 2);
      ctx.fillText("−Log10 p Value", 0, 0);
      ctx.restore();
      ctx.font = `25px ${FONT}`;
      ctx.textAlign = "left";
      ctx.fillText(p.title, a.left + 13, a.bottom - 10);
      if (lay.xAxis) {
        ctx.font = `20px ${FONT}`;
        ctx.textAlign = "center";
        xTickValues.forEach((v, i) => {
          const px = x.getPixelForValue(v);
          ctx.beginPath();
          ctx.moveTo(px, a.bottom);
          ctx.lineTo(px, a.bottom + 8);
          ctx.stroke();
          ctx.fillText(xTickLabels[i], px, a.bottom + 26);
        });
        ctx.font = `18px ${FONT}`;
        ctx.fillText("Log2 fold change", (a.left + a.right) / 2, a.bottom + 53);
      }
      if (lay.letter) {
        ctx.font = `47px ${FONT}`;
        ctx.textAlign = "left";
        ctx.fillText(lay.letter, 10, 40);
      }
      ctx.restore();
    },
  };
  const stipple = makeStipple(canvas, false);
  const stippleDense = makeStipple(canvas, true);
  return new Chart(canvas, {
    type: "scatter",
    data: { datasets: buildVolcanoDatasets(p, stipple, stippleDense) },
    options: {
      ...baseOptions,
      layout: { padding: lay.pad },
      scales: {
        x: { type: "linear", display: false, min: -5.45, max: 5.38 },
        y: { type: "linear", display: false, min: -0.27, max: 7.28 },
      },
    },
    plugins: [decor],
  });
}

export default function App() {
  const barRef = useRef(null);
  const vennUpRef = useRef(null);
  const vennDownRef = useRef(null);
  const v1Ref = useRef(null);
  const v2Ref = useRef(null);
  const v3Ref = useRef(null);

  useEffect(() => {
    const charts = [
      makeBarChart(barRef.current),
      makeVenn(vennUpRef.current, 600, 430, vennUpCounts, VENN_LABELS_UP, VENN_CIRCLES_UP, vennTitles[0], [101, 1012], "B"),
      makeVenn(vennDownRef.current, 1030, 481, vennDownCounts, VENN_LABELS_DOWN, VENN_CIRCLES_DOWN, vennTitles[1], [106, 1451], null),
      makeVolcano(v1Ref.current, panelData[0], panelsLayout[0]),
      makeVolcano(v2Ref.current, panelData[1], panelsLayout[1]),
      makeVolcano(v3Ref.current, panelData[2], panelsLayout[2]),
    ];
    return () => charts.forEach((c) => c.destroy());
  }, []);

  const abs = (left, top) => ({ position: "absolute", left, top });
  return (
    <div style={{ position: "absolute", left: 0, top: 0, width: 1422, height: 1511, background: "#ffffff", overflow: "hidden" }}>
      <canvas ref={barRef} width={520} height={600} style={abs(0, 0)} />
      <canvas ref={vennUpRef} width={500} height={430} style={abs(0, 600)} />
      <canvas ref={vennDownRef} width={500} height={481} style={abs(0, 1030)} />
      <canvas ref={v1Ref} width={902} height={488} style={abs(520, 0)} />
      <canvas ref={v2Ref} width={902} height={482} style={abs(520, 488)} />
      <canvas ref={v3Ref} width={902} height={541} style={abs(520, 970)} />
    </div>
  );
}
